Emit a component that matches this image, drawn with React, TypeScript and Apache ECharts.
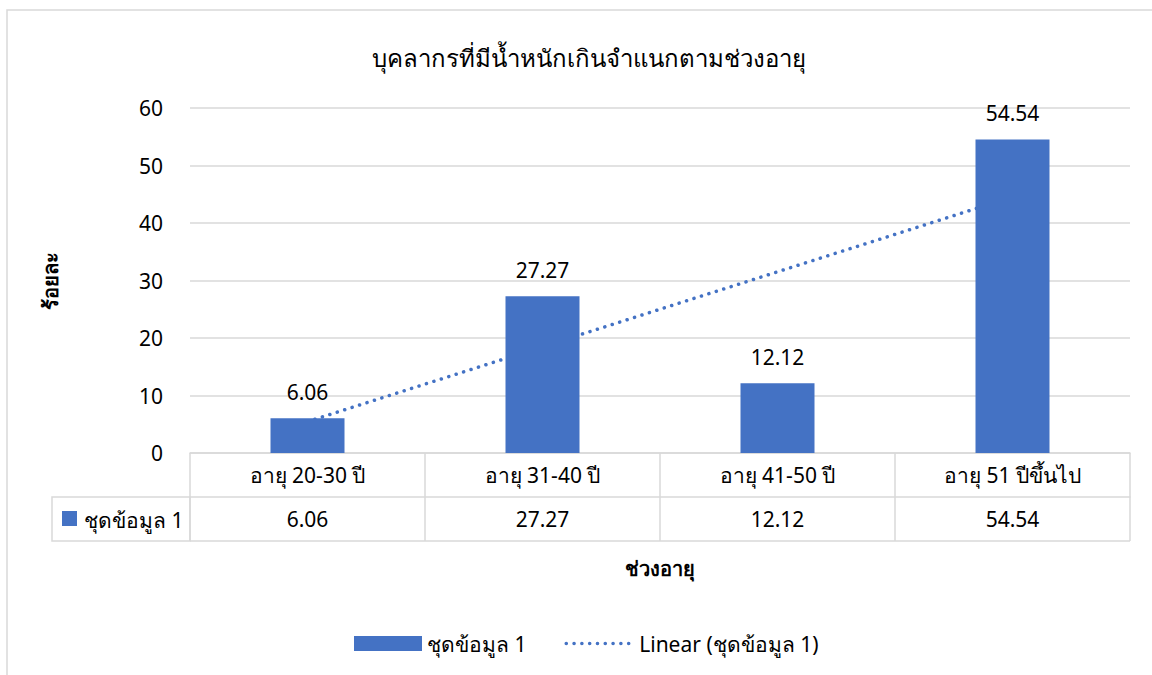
import React, { useEffect, useRef } from "react";
import * as echarts from "echarts";

const title = "บุคลากรที่มีน้ำหนักเกินจำแนกตามช่วงอายุ";
const categories = ["อายุ 20-30 ปี", "อายุ 31-40 ปี", "อายุ 41-50 ปี", "อายุ 51 ปีขึ้นไป"];
const values = [6.06, 27.27, 12.12, 54.54];
const trendValues = [5.46, 18.49, 31.51, 44.54];
const seriesName = "ชุดข้อมูล 1";
const trendName = "Linear (ชุดข้อมูล 1)";
const yAxisName = "ร้อยละ";
const xAxisName = "ช่วงอายุ";

const FONT = "'Noto Sans', 'DejaVu Sans', sans-serif";
const BLUE = "#4472C4";
const GRIDC = "#d9d9d9";
const FS = 21;

export default function App() {
  const ref = useRef<HTMLDivElement>(null);
  useEffect(() => {
    if (!ref.current) return;
    const chart = echarts.init(ref.current, undefined, { renderer: "svg" });
    const left = 190, right = 22, top = 108, bottom = 222;
    const dotted = { color: BLUE, width: 3.5, type: [0.1, 7.7], cap: "round" };
    chart.setOption({
      animation: false,
      textStyle: { fontFamily: FONT },
      title: {
        text: title,
        left: 584,
        top: 40,
        textAlign: "center",
        textStyle: { fontFamily: FONT, fontSize: 24, fontWeight: "normal", color: "#000" },
      },
      legend: {
        data: [
          { name: seriesName, icon: "rect" },
          { name: trendName, itemStyle: { opacity: 0 }, lineStyle: dotted },
        ],
        left: 354,
        top: 633,
        padding: 0,
        itemWidth: 68,
        itemHeight: 15,
        itemGap: 38,
        textStyle: { fontFamily: FONT, fontSize: FS, color: "#000" },
      },
      grid: { left, right, top, bottom, containLabel: false },
      xAxis: [
        {
          type: "category",
          data: categories,
          position: "bottom",
          axisLine: { show: true, lineStyle: { color: GRIDC, width: 1.5 } },
          axisTick: { show: true, length: 44, interval: 0, lineStyle: { color: GRIDC, width: 1.5 } },
          axisLabel: { fontFamily: FONT, fontSize: FS, color: "#000", margin: 11, interval: 0 },
        },
        {
          type: "category",
          data: values.map((v) => v.toFixed(2)),
          position: "bottom",
          offset: 44,
          axisLine: { show: true, lineStyle: { color: GRIDC, width: 1.5 } },
          axisTick: { show: true, length: 44, interval: 0, lineStyle: { color: GRIDC, width: 1.5 } },
          axisLabel: { fontFamily: FONT, fontSize: FS, color: "#000", margin: 11, interval: 0 },
        },
      ],
      yAxis: {
        type: "value",
        min: 0,
        max: 60,
        interval: 10,
        axisLine: { show: false },
        axisTick: { show: false },
        axisLabel: { fontFamily: FONT, fontSize: FS, color: "#000", margin: 27 },
        splitLine: { lineStyle: { color: GRIDC, width: 1.5 } },
      },
      series: [
        {
          name: trendName,
          type: "line",
          data: trendValues,
          symbol: "none",
          lineStyle: dotted,
          itemStyle: { color: BLUE },
          z: 1,
        },
        {
          name: seriesName,
          type: "bar",
          data: values,
          barWidth: 74,
          itemStyle: { color: BLUE },
          label: {
            show: true,
            position: "top",
            distance: 16,
            fontFamily: FONT,
            fontSize: FS,
            color: "#000",
            formatter: (p: any) => p.value.toFixed(2),
          },
          z: 2,
        },
      ],
      graphic: [
        {
          type: "rect",
          shape: { x: 7, y: 10, width: 1160, height: 700 },
          style: { fill: "none", stroke: GRIDC, lineWidth: 1.5 },
          silent: true,
        },
        {
          type: "rect",
          shape: { x: 52, y: 497, width: 138, height: 44 },
          style: { fill: "none", stroke: GRIDC, lineWidth: 1.5 },
          silent: true,
        },
        {
          type: "line",
          shape: { x1: 190, y1: 541, x2: 1130, y2: 541 },
          style: { stroke: GRIDC, lineWidth: 1.5 },
          silent: true,
        },
        {
          type: "rect",
          shape: { x: 62, y: 511, width: 15, height: 15 },
          style: { fill: BLUE },
          silent: true,
        },
        {
          type: "text",
          x: 84,
          y: 520,
          style: {
            text: seriesName,
            font: `${FS}px ${FONT}`,
            fill: "#000",
            textVerticalAlign: "middle",
          },
        },
        {
          type: "text",
          x: 50,
          y: 281,
          rotation: Math.PI / 2,
          style: {
            text: yAxisName,
            font: `bold 20px ${FONT}`,
            fill: "#000",
            textAlign: "center",
            textVerticalAlign: "middle",
          },
        },
        {
          type: "text",
          x: 660,
          y: 568,
          style: {
            text: xAxisName,
            font: `bold 20px ${FONT}`,
            fill: "#000",
            textAlign: "center",
            textVerticalAlign: "middle",
          },
        },
      ],
    });
    return () => chart.dispose();
  }, []);
  return <div ref={ref} style={{ width: 1152, height: 675, position: "absolute", left: 0, top: 0 }} />;
}
